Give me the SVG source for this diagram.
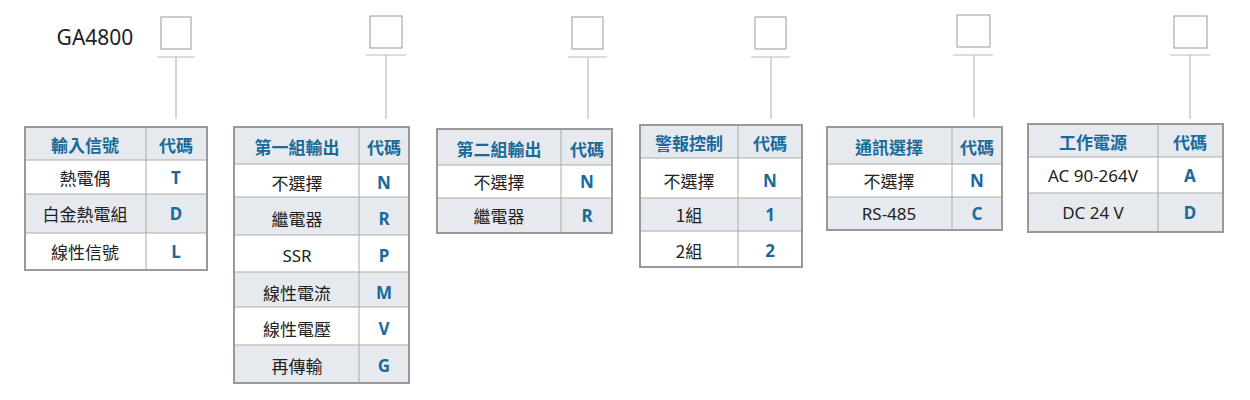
<svg xmlns="http://www.w3.org/2000/svg" width="1250" height="400" viewBox="0 0 1250 400">
<style>
.bx{fill:#fff;stroke:#aaa;stroke-width:1.2}
.ln{stroke:#bbb;stroke-width:1.2;fill:none}
.g{fill:#e6eaee}
.w{fill:#fff}
.out{fill:none;stroke:#999;stroke-width:2}
.div{stroke:#aaa;stroke-width:1}
text{font-family:"Noto Sans CJK TC","Noto Sans",sans-serif;font-size:17px;text-anchor:middle;dominant-baseline:central}
.h{fill:#1a6a9a;font-weight:bold}
.c{fill:#1a6a9a;font-weight:bold;font-family:"Noto Sans","Noto Sans CJK TC",sans-serif}
.t{fill:#222}
</style>
<text x="95" y="37" style="font-size:21px;fill:#222;font-family:'Noto Sans',sans-serif">GA4800</text>
<g id="connectors">
<rect class="bx" x="161" y="17" width="30" height="32"/><path class="ln" d="M157 57H195M176 57V119"/>
<rect class="bx" x="370" y="16" width="32" height="32"/><path class="ln" d="M366 55H406M386 55V119"/>
<rect class="bx" x="572" y="17" width="31" height="32"/><path class="ln" d="M568 57H607M588 57V119"/>
<rect class="bx" x="755" y="17" width="31" height="32"/><path class="ln" d="M751 57H790M771 57V119"/>
<rect class="bx" x="957" y="15" width="33" height="32"/><path class="ln" d="M953 55H993M974 55V118"/>
<rect class="bx" x="1174" y="16" width="33" height="32"/><path class="ln" d="M1170 55H1210M1190 55V119"/>
</g>
<g id="t1">
<rect class="g" x="25" y="127" width="182" height="33"/><rect class="w" x="25" y="160" width="182" height="34"/><rect class="g" x="25" y="194" width="182" height="39"/><rect class="w" x="25" y="233" width="182" height="37"/>
<path class="div" d="M146 127V270M25 160H207M25 194H207M25 233H207"/><rect class="out" x="25" y="127" width="182" height="143"/>
<text class="h" x="85" y="144">輸入信號</text><text class="h" x="176" y="144">代碼</text>
<text class="t" x="85" y="177">熱電偶</text><text class="c" x="176" y="177">T</text>
<text class="t" x="85" y="213">白金熱電組</text><text class="c" x="176" y="213">D</text>
<text class="t" x="85" y="251">線性信號</text><text class="c" x="176" y="251">L</text>
</g>
<g id="t2">
<rect class="g" x="234" y="127" width="175" height="37"/><rect class="w" x="234" y="164" width="175" height="33"/><rect class="g" x="234" y="197" width="175" height="38"/><rect class="w" x="234" y="235" width="175" height="37"/><rect class="g" x="234" y="272" width="175" height="35"/><rect class="w" x="234" y="307" width="175" height="38"/><rect class="g" x="234" y="345" width="175" height="38"/>
<path class="div" d="M359 127V383M234 164H409M234 197H409M234 235H409M234 272H409M234 307H409M234 345H409"/><rect class="out" x="234" y="127" width="175" height="256"/>
<text class="h" x="297" y="146">第一組輸出</text><text class="h" x="384" y="146">代碼</text>
<text class="t" x="297" y="182">不選擇</text><text class="c" x="384" y="182">N</text>
<text class="t" x="297" y="218">繼電器</text><text class="c" x="384" y="218">R</text>
<text class="t" x="297" y="255" style="font-family:'Noto Sans',sans-serif">SSR</text><text class="c" x="384" y="255">P</text>
<text class="t" x="297" y="292">線性電流</text><text class="c" x="384" y="292">M</text>
<text class="t" x="297" y="328">線性電壓</text><text class="c" x="384" y="328">V</text>
<text class="t" x="297" y="365">再傳輸</text><text class="c" x="384" y="365">G</text>
</g>
<g id="t3">
<rect class="g" x="437" y="129" width="175" height="36"/><rect class="w" x="437" y="165" width="175" height="33"/><rect class="g" x="437" y="198" width="175" height="35"/>
<path class="div" d="M561 129V233M437 165H612M437 198H612"/><rect class="out" x="437" y="129" width="175" height="104"/>
<text class="h" x="499" y="148">第二組輸出</text><text class="h" x="587" y="148">代碼</text>
<text class="t" x="499" y="181">不選擇</text><text class="c" x="587" y="181">N</text>
<text class="t" x="499" y="215">繼電器</text><text class="c" x="587" y="215">R</text>
</g>
<g id="t4">
<rect class="g" x="640" y="125" width="162" height="33"/><rect class="w" x="640" y="158" width="162" height="40"/><rect class="g" x="640" y="198" width="162" height="33"/><rect class="w" x="640" y="231" width="162" height="36"/>
<path class="div" d="M738 125V267M640 158H802M640 198H802M640 231H802"/><rect class="out" x="640" y="125" width="162" height="142"/>
<text class="h" x="689" y="142">警報控制</text><text class="h" x="770" y="142">代碼</text>
<text class="t" x="689" y="180">不選擇</text><text class="c" x="770" y="180">N</text>
<text class="t" x="689" y="214">1組</text><text class="c" x="770" y="214">1</text>
<text class="t" x="689" y="250">2組</text><text class="c" x="770" y="250">2</text>
</g>
<g id="t5">
<rect class="g" x="827" y="127" width="175" height="37"/><rect class="w" x="827" y="164" width="175" height="33"/><rect class="g" x="827" y="197" width="175" height="33"/>
<path class="div" d="M952 127V230M827 164H1002M827 197H1002"/><rect class="out" x="827" y="127" width="175" height="103"/>
<text class="h" x="889" y="146">通訊選擇</text><text class="h" x="977" y="146">代碼</text>
<text class="t" x="889" y="180">不選擇</text><text class="c" x="977" y="180">N</text>
<text class="t" x="889" y="213" style="font-family:'Noto Sans',sans-serif">RS-485</text><text class="c" x="977" y="213">C</text>
</g>
<g id="t6">
<rect class="g" x="1028" y="124" width="195" height="33"/><rect class="w" x="1028" y="157" width="195" height="36"/><rect class="g" x="1028" y="193" width="195" height="39"/>
<path class="div" d="M1158 124V232M1028 157H1223M1028 193H1223"/><rect class="out" x="1028" y="124" width="195" height="108"/>
<text class="h" x="1093" y="141">工作電源</text><text class="h" x="1190" y="141">代碼</text>
<text class="t" x="1093" y="175" style="font-family:'Noto Sans',sans-serif">AC 90-264V</text><text class="c" x="1190" y="175">A</text>
<text class="t" x="1093" y="212" style="font-family:'Noto Sans',sans-serif">DC 24 V</text><text class="c" x="1190" y="212">D</text>
</g>
</svg>
